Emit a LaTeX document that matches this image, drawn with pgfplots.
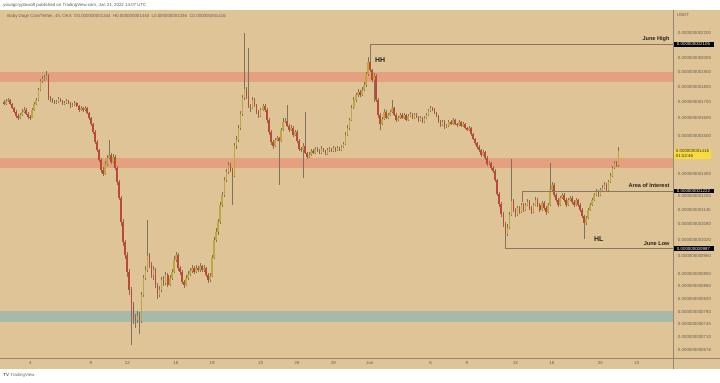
\documentclass[border=0pt]{standalone}
\usepackage{pgfplots}
\usepackage{pgfplotstable}
\pgfplotsset{compat=1.18}
\usepackage{fontspec}
\setmainfont{Liberation Sans}
\definecolor{tanbg}{RGB}{223,196,151}
\definecolor{bandred}{RGB}{229,160,128}
\definecolor{bandteal}{RGB}{167,186,170}
\definecolor{upcol}{RGB}{190,168,62}
\definecolor{downcol}{RGB}{194,70,56}
\definecolor{wickcol}{RGB}{128,115,92}
\definecolor{tickcol}{RGB}{105,95,80}
\definecolor{axcol}{RGB}{150,135,110}
\definecolor{linecol}{RGB}{135,120,95}
\definecolor{tagyel}{RGB}{247,220,60}
\definecolor{txtdark}{RGB}{40,36,30}
\newcommand{\tvf}{\fontsize{4.4}{5}\selectfont}
\pgfplotstableread{
o h l c
1700 1712 1680 1689
1689 1720 1682 1708
1708 1728 1700 1714
1714 1722 1682 1689
1689 1696 1655 1665
1665 1672 1630 1640
1640 1650 1600 1616
1616 1628 1590 1604
1604 1635 1598 1622
1622 1655 1615 1640
1640 1668 1632 1652
1652 1660 1620 1628
1628 1636 1598 1610
1610 1622 1590 1604
1604 1660 1600 1652
1652 1700 1645 1689
1689 1726 1680 1714
1714 1792 1708 1779
1779 1850 1770 1839
1839 1870 1825 1853
1853 1880 1840 1860
1860 1909 1850 1874
1874 1885 1715 1727
1727 1740 1700 1714
1714 1725 1695 1708
1708 1716 1685 1695
1695 1712 1688 1701
1701 1732 1695 1720
1720 1728 1698 1708
1708 1715 1680 1689
1689 1706 1682 1695
1695 1718 1690 1708
1708 1714 1686 1695
1695 1700 1665 1676
1676 1695 1670 1683
1683 1706 1678 1695
1695 1700 1668 1676
1676 1682 1640 1652
1652 1678 1645 1665
1665 1672 1640 1652
1652 1675 1646 1665
1665 1670 1625 1634
1634 1640 1592 1604
1604 1610 1555 1569
1569 1575 1510 1523
1523 1530 1455 1467
1467 1475 1410 1424
1424 1430 1360 1372
1372 1380 1305 1322
1322 1335 1290 1303
1303 1365 1298 1352
1352 1395 1340 1383
1383 1478 1375 1398
1398 1405 1350 1362
1362 1400 1355 1388
1388 1395 1320 1332
1332 1340 1250 1265
1265 1272 1180 1192
1192 1200 1075 1090
1090 1100 995 1012
1012 1020 950 965
965 975 890 906
906 915 830 847
847 855 691 801
801 810 745 763
763 775 735 758
758 782 748 769
769 780 720 755
755 840 750 832
832 895 825 886
886 925 878 912
912 1098 905 961
961 970 920 930
930 940 885 896
896 925 880 912
912 918 852 863
863 870 820 832
832 858 825 847
847 890 840 879
879 892 860 869
869 905 862 896
896 900 855 863
863 895 858 886
886 915 880 906
906 960 900 947
947 975 940 965
965 970 910 919
919 925 895 906
906 912 865 873
873 880 852 863
863 895 858 886
886 908 880 899
899 918 892 909
909 930 902 919
919 925 898 906
906 928 900 919
919 925 905 912
912 935 906 926
926 930 905 912
912 928 906 919
919 922 888 896
896 900 870 879
879 900 872 892
892 965 888 954
954 1030 948 1020
1020 1065 1012 1050
1050 1100 1040 1090
1090 1172 1082 1161
1161 1218 1152 1205
1205 1285 1195 1274
1274 1325 1265 1312
1312 1360 1300 1347
1347 1355 1310 1322
1322 1330 1160 1293
1293 1460 1285 1446
1446 1500 1430 1478
1478 1560 1465 1546
1546 1645 1535 1628
1628 1745 1615 1727
1727 2200 1715 1786
1786 1800 1720 1740
1740 2079 1660 1676
1676 1690 1640 1665
1665 1730 1655 1714
1714 1725 1670 1683
1683 1690 1625 1640
1640 1650 1600 1616
1616 1665 1610 1652
1652 1688 1645 1676
1676 1685 1640 1652
1652 1660 1575 1592
1592 1600 1505 1523
1523 1530 1450 1467
1467 1475 1430 1446
1446 1490 1440 1478
1478 1500 1470 1489
1489 1495 1251 1473
1473 1545 1465 1534
1534 1600 1525 1580
1580 1600 1570 1586
1586 1683 1550 1557
1557 1565 1520 1534
1534 1560 1525 1546
1546 1555 1495 1506
1506 1535 1498 1523
1523 1530 1460 1473
1473 1480 1420 1430
1430 1440 1410 1424
1424 1460 1283 1446
1446 1640 1400 1409
1409 1415 1375 1388
1388 1410 1380 1398
1398 1428 1390 1419
1419 1430 1400 1409
1409 1440 1402 1430
1430 1438 1410 1419
1419 1428 1400 1409
1409 1442 1402 1430
1430 1436 1410 1419
1419 1425 1395 1403
1403 1435 1398 1424
1424 1440 1415 1430
1430 1436 1410 1419
1419 1445 1412 1435
1435 1440 1415 1424
1424 1446 1418 1435
1435 1440 1416 1424
1424 1450 1418 1440
1440 1468 1432 1457
1457 1520 1450 1506
1506 1560 1498 1546
1546 1605 1535 1592
1592 1680 1585 1665
1665 1730 1655 1714
1714 1760 1700 1746
1746 1785 1735 1766
1766 1775 1730 1746
1746 1795 1738 1779
1779 1830 1770 1812
1812 1900 1800 1888
1888 2010 1875 1975
1975 1990 1900 1916
1916 1925 1830 1846
1846 1890 1700 1874
1874 1885 1700 1714
1714 1725 1600 1622
1622 1630 1530 1569
1569 1610 1560 1598
1598 1655 1590 1640
1640 1650 1595 1604
1604 1635 1598 1622
1622 1650 1615 1640
1640 1714 1632 1665
1665 1672 1612 1622
1622 1630 1580 1592
1592 1615 1585 1604
1604 1632 1596 1622
1622 1630 1596 1604
1604 1634 1598 1622
1622 1628 1582 1592
1592 1625 1585 1616
1616 1640 1608 1628
1628 1635 1596 1604
1604 1632 1598 1622
1622 1630 1600 1610
1610 1616 1580 1592
1592 1612 1585 1604
1604 1610 1570 1580
1580 1615 1575 1604
1604 1632 1598 1622
1622 1655 1615 1646
1646 1676 1640 1665
1665 1672 1644 1652
1652 1660 1625 1634
1634 1640 1608 1616
1616 1622 1575 1586
1586 1592 1550 1563
1563 1590 1555 1580
1580 1588 1540 1552
1552 1568 1545 1557
1557 1590 1550 1580
1580 1588 1560 1569
1569 1600 1562 1592
1592 1598 1560 1569
1569 1575 1552 1563
1563 1590 1556 1580
1580 1585 1548 1557
1557 1578 1550 1569
1569 1575 1538 1546
1546 1552 1525 1534
1534 1555 1528 1546
1546 1550 1500 1512
1512 1518 1475 1484
1484 1490 1450 1462
1462 1468 1430 1440
1440 1448 1412 1424
1424 1430 1388 1398
1398 1424 1390 1414
1414 1420 1372 1383
1383 1390 1340 1352
1352 1368 1345 1357
1357 1362 1320 1332
1332 1340 1305 1317
1317 1325 1262 1274
1274 1280 1198 1210
1210 1218 1150 1165
1165 1172 1110 1123
1123 1130 1068 1082
1082 1090 1000 1043
1043 1080 1035 1066
1066 1130 1060 1119
1119 1378 1112 1179
1179 1186 1130 1140
1140 1148 1108 1119
1119 1158 1112 1148
1148 1155 1122 1131
1131 1170 1125 1161
1161 1168 1132 1140
1140 1170 1135 1161
1161 1185 1155 1174
1174 1180 1140 1148
1148 1155 1122 1131
1131 1170 1125 1161
1161 1195 1155 1183
1183 1190 1152 1161
1161 1168 1130 1140
1140 1178 1135 1170
1170 1176 1140 1148
1148 1155 1120 1131
1131 1170 1125 1161
1161 1357 1155 1228
1228 1265 1220 1251
1251 1258 1195 1205
1205 1212 1175 1183
1183 1190 1150 1161
1161 1200 1155 1192
1192 1215 1185 1205
1205 1212 1175 1183
1183 1190 1152 1161
1161 1192 1155 1183
1183 1200 1176 1192
1192 1198 1165 1174
1174 1180 1152 1161
1161 1192 1155 1183
1183 1188 1150 1161
1161 1168 1130 1140
1140 1146 1105 1115
1115 1120 1024 1086
1086 1115 1078 1106
1106 1148 1100 1140
1140 1170 1135 1161
1161 1192 1155 1183
1183 1215 1176 1205
1205 1230 1198 1219
1219 1226 1196 1205
1205 1238 1200 1228
1228 1248 1220 1237
1237 1262 1230 1251
1251 1258 1220 1228
1228 1275 1222 1265
1265 1305 1258 1293
1293 1342 1286 1332
1332 1368 1325 1357
1357 1365 1336 1344
1344 1440 1336 1416
}\candles
\pgfplotstablecreatecol[create col/expr={1.8333333+\pgfplotstablerow/6}]{d}\candles
\begin{document}
\begin{tikzpicture}
\fill[white] (0pt,0pt) rectangle (720pt,383pt);
\fill[tanbg] (0pt,14pt) rectangle (720pt,373pt);
\node[anchor=west, inner sep=0pt, font=\tvf, text=black!65] at (3pt,378pt) {youngcryptowolf published on TradingView.com, Jun 21, 2022 14:07 UTC};
\node[anchor=west, inner sep=0pt, font=\tvf, text=tickcol] at (7pt,367pt) {Baby Doge Coin/Tether, 4h, OKX\ \ O0.000000001344\ \ H0.000000001440\ \ L0.000000001336\ \ C0.000000001416};
\node[anchor=west, inner sep=0pt, font=\tvf, text=tickcol] at (677pt,368pt) {USDT};
\node[anchor=west, inner sep=0pt, font=\tvf, text=black!60] at (3pt,7pt) {\textbf{TV}\ TradingView};
\begin{axis}[
  at={(0pt,25pt)}, anchor=south west,
  scale only axis, width=673pt, height=348pt,
  ymode=log, xmin=1.529, xmax=56.97, ymin=658.5, ymax=2392,
  axis line style={draw=none},
  clip=false,
  major tick length=0pt, minor tick num=0,
  ytick={2200,2000,1900,1800,1700,1600,1500,1300,1200,1140,1080,1020,960,900,860,820,780,745,710,678},
  yticklabels={0.000000002200,0.000000002000,0.000000001900,0.000000001800,0.000000001700,0.000000001600,0.000000001500,0.000000001300,0.000000001200,0.000000001140,0.000000001080,0.000000001020,0.000000000960,0.000000000900,0.000000000860,0.000000000820,0.000000000780,0.000000000745,0.000000000710,0.000000000678},
  yticklabel pos=right,
  yticklabel style={anchor=west, inner sep=0pt, xshift=5pt, font=\tvf, text=tickcol},
  xtick={4,9,12,16,19,23,26,29,32,37,40,44,47,51,54},
  xticklabels={4,9,12,16,19,23,26,29,Jun,6,9,13,16,20,23},
  xticklabel style={anchor=center, inner sep=0pt, yshift=-5pt, font=\tvf, text=tickcol},
]
\addplot[draw=none, fill=bandred, forget plot] coordinates {(1.529,1828) (56.97,1828) (56.97,1900) (1.529,1900)} --cycle;
\addplot[draw=none, fill=bandred, forget plot] coordinates {(1.529,1332) (56.97,1332) (56.97,1381) (1.529,1381)} --cycle;
\addplot[draw=none, fill=bandteal, forget plot] coordinates {(1.529,753) (56.97,753) (56.97,782) (1.529,782)} --cycle;
% wicks
\addplot[draw=none, forget plot, error bars/.cd, y dir=plus, y explicit, error mark=none,
  error bar style={draw=wickcol, line width=0.45pt, solid}]
  table[x=d, y=l, y error expr={\thisrow{h}-\thisrow{l}}] {\candles};
% up bodies
\addplot[draw=none, forget plot, restrict expr to domain={\thisrow{c}-\thisrow{o}}{0:100000},
  error bars/.cd, y dir=plus, y explicit, error mark=none,
  error bar style={draw=upcol, line width=1.6pt, solid}]
  table[x=d, y=o, y error expr={\thisrow{c}-\thisrow{o}}] {\candles};
% down bodies
\addplot[draw=none, forget plot, restrict expr to domain={\thisrow{o}-\thisrow{c}}{0.5:100000},
  error bars/.cd, y dir=plus, y explicit, error mark=none,
  error bar style={draw=downcol, line width=1.6pt, solid}]
  table[x=d, y=c, y error expr={\thisrow{o}-\thisrow{c}}] {\candles};
% annotation lines
\draw[linecol, line width=0.5pt] (axis cs:32,1975) -- (axis cs:32,2105) -- (axis cs:56.97,2105);
\draw[linecol, line width=0.5pt] (axis cs:44.6,1174) -- (axis cs:44.6,1222) -- (axis cs:56.97,1222);
\draw[linecol, line width=0.5pt] (axis cs:43.17,1020) -- (axis cs:43.17,987) -- (axis cs:56.97,987);
\node[anchor=south east, inner sep=0pt, yshift=3pt, xshift=-3pt, font=\fontsize{5.6}{7}\selectfont\bfseries, text=txtdark] at (axis cs:56.97,2105) {June High};
\node[anchor=south east, inner sep=0pt, yshift=3pt, xshift=-3pt, font=\fontsize{5.6}{7}\selectfont\bfseries, text=txtdark] at (axis cs:56.97,1222) {Area of Interest};
\node[anchor=south east, inner sep=0pt, yshift=3pt, xshift=-3pt, font=\fontsize{5.6}{7}\selectfont\bfseries, text=txtdark] at (axis cs:56.97,987) {June Low};
\node[anchor=west, inner sep=0pt, font=\fontsize{7}{8}\selectfont\bfseries, text=txtdark] at (axis cs:32.42,1988) {HH};
\node[anchor=west, inner sep=0pt, font=\fontsize{7}{8}\selectfont\bfseries, text=txtdark] at (axis cs:50.46,1024) {HL};
% price tags
\node[anchor=west, fill=black, text=white, font=\tvf, inner sep=0.6pt, minimum width=41pt, minimum height=4.6pt] at (axis cs:56.97,2105) {0.000000002105};
\node[anchor=west, fill=black, text=white, font=\tvf, inner sep=0.6pt, minimum width=41pt, minimum height=4.6pt] at (axis cs:56.97,1222) {0.000000001222};
\node[anchor=west, fill=black, text=white, font=\tvf, inner sep=0.6pt, minimum width=41pt, minimum height=4.6pt] at (axis cs:56.97,987) {0.000000000987};
\end{axis}
\node[anchor=north west, fill=tagyel, text=black!80, font=\tvf, inner sep=0.8pt, align=left, minimum width=38pt] at (673.5pt,234pt) {0.000000001416\\01:52:46};
\draw[axcol, line width=0.5pt] (673pt,14pt) -- (673pt,373pt);
\draw[axcol, line width=0.5pt] (0pt,25pt) -- (720pt,25pt);
\end{tikzpicture}
\end{document}
